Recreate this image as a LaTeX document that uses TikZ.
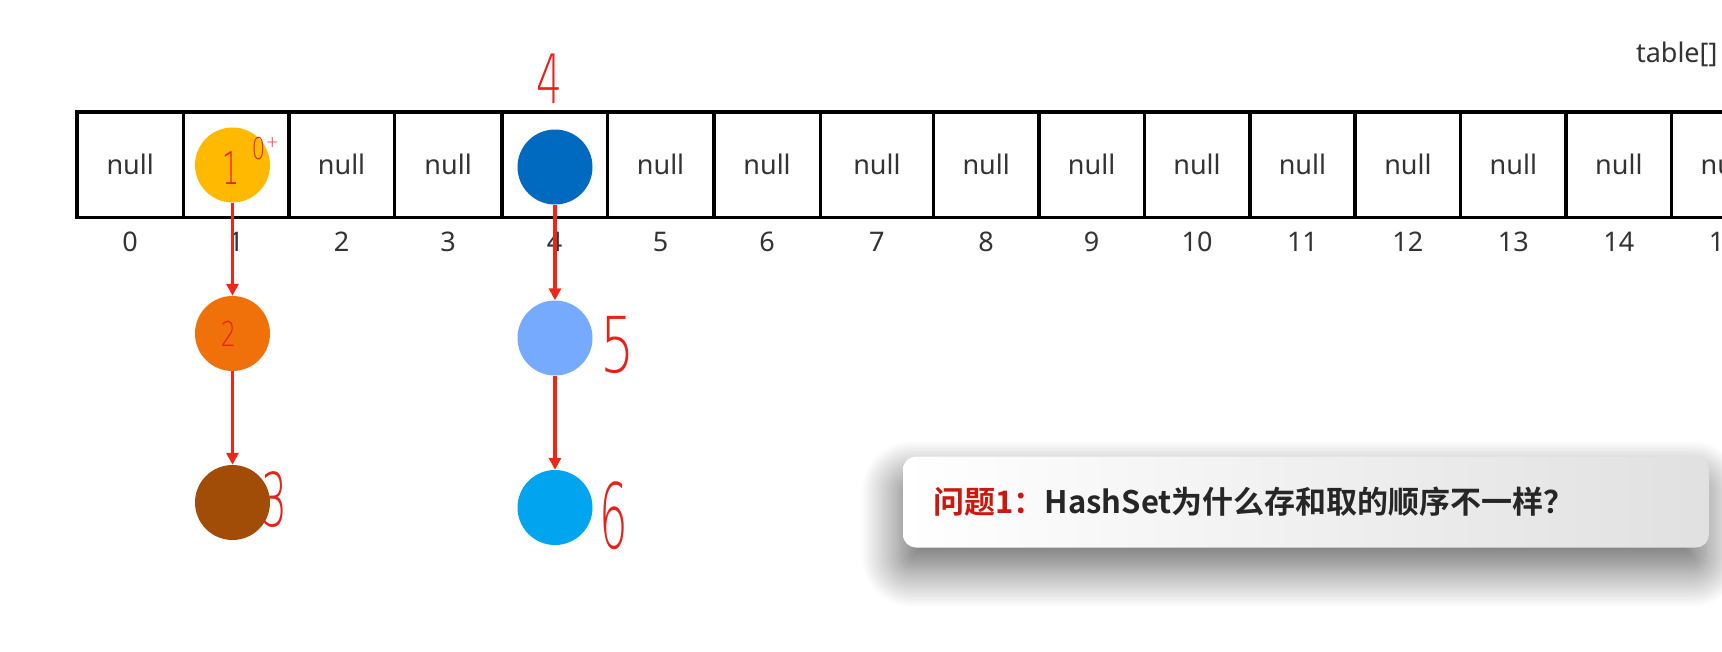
\documentclass[tikz,border=0pt]{standalone}
\usepackage{fontspec}
\usepackage{graphicx}
\setmainfont{Noto Sans}
\newfontfamily\cjk{Noto Sans CJK SC}[BoldFont={* Bold}]
\newfontfamily\handfont{DejaVu Sans ExtraLight}
\usepackage{tikz}
\usetikzlibrary{arrows.meta,calc,positioning,shadows.blur}
\definecolor{txtgray}{rgb}{0.2,0.2,0.2}
\definecolor{qgray}{rgb}{0.15,0.15,0.15}
\definecolor{darkred}{rgb}{0.8,0.09,0.05}
\definecolor{linkred}{rgb}{0.93,0.15,0.09}
\definecolor{handred}{rgb}{0.9,0.13,0.1}
\definecolor{cyellow}{HTML}{FFB900}
\definecolor{cdblue}{HTML}{006AC1}
\definecolor{corange}{HTML}{F0700A}
\definecolor{cbrown}{HTML}{A14C07}
\definecolor{clblue}{HTML}{76AAFF}
\definecolor{ccyan}{HTML}{00A4EF}

\begin{document}
\begin{tikzpicture}[x=1pt,y=-1pt,
    cell/.style={draw,line width=3.6pt,minimum height=105.5,inner sep=0,text=txtgray,font=\fontsize{27}{32}\selectfont},
    idx/.style={text=txtgray,font=\fontsize{27}{32}\selectfont},
    elem/.style={circle,minimum size=75,inner sep=0,fill=#1},
    link/.style={draw=linkred,line width=3.2pt,-{Triangle[width=12pt,length=12pt]}},
    hand/.style={text=handred,inner sep=0,font=\handfont\fontsize{#1}{#1}\selectfont},
    banner/.style={rounded corners=13pt,left color=white,right color=black!12,
      text width=745pt,inner xsep=30.5pt,minimum height=91pt,align=left,text=qgray,
      font=\cjk\bfseries\fontsize{31}{37}\selectfont,
      blur shadow={shadow xshift=-4pt,shadow yshift=-22pt,shadow blur radius=38pt,
        shadow blur steps=30,shadow opacity=60}}]
        \useasboundingbox (0,0) rectangle (1722,651);
        \clip (0,0) rectangle (1722,651);
        \def\ym{164.8}
        %Table
        \node[idx,anchor=east] (tbl) at (1721,54) {table[]};
        \foreach \i/\l/\r in {0/77/183.4,1/183.4/288.8,2/288.8/394.3,3/394.3/501.9,
            4/501.9/607.3,5/607.3/713.8,6/713.8/820.3,7/820.3/933.5,8/933.5/1038.9,
            9/1038.9/1144.3,10/1144.3/1249.7,11/1249.7/1355.2,12/1355.2/1460.6,
            13/1460.6/1566.1,14/1566.1/1671.5,15/1671.5/1777}{
          \node[cell,minimum width={\r-\l}] (c\i) at ({(\l+\r)/2},\ym)
            {\ifnum\i=1 \else\ifnum\i=4 \else null\fi\fi};
          \node[idx] (n\i) at ({(\l+\r)/2},241.6) {\i};
        }
        %Elements
        \node[elem=cyellow] (e1) at (232.5,165) {};
        \node[elem=corange] (e2) at (232.5,333.5) {};
        \node[elem=cbrown] (e3) at (232.5,502.5) {};
        \node[elem=cdblue] (e4) at (555,167) {};
        \node[elem=clblue] (e5) at (555,338) {};
        \node[elem=ccyan] (e6) at (555,507.5) {};
        %Links
        \draw[link] (e1) -- (e2);
        \draw[link] (e2) -- (e3);
        \draw[link] (e4) -- (e5);
        \draw[link] (e5) -- (e6);
        %Handwriting
        \node[hand=45] (h1) at (231,168) {\scalebox{.6}[1]{1}};
        \node[hand=30] (h0) at (258.6,148.5) {\scalebox{.7}[1]{0}};
        \node[hand=16,right=0pt of h0.north east,anchor=north west] (hp) {+};
        \node[hand=34] (h2) at (228.5,334) {\scalebox{.7}[1]{2}};
        \node[hand=74] (h3) at (274,500) {\scalebox{.55}[1]{3}};
        \node[hand=68] (h4) at (549,79) {\scalebox{.6}[1]{4}};
        \node[hand=77] (h5) at (618,345) {\scalebox{.7}[1]{5}};
        \node[hand=90] (h6) at (613.5,516) {\scalebox{.5}[1]{6}};
        %Question
        \node[banner] (q) at (1306,502) {\textcolor{darkred}{问题1：}HashSet为什么存和取的顺序不一样？};
\end{tikzpicture}
\end{document}
